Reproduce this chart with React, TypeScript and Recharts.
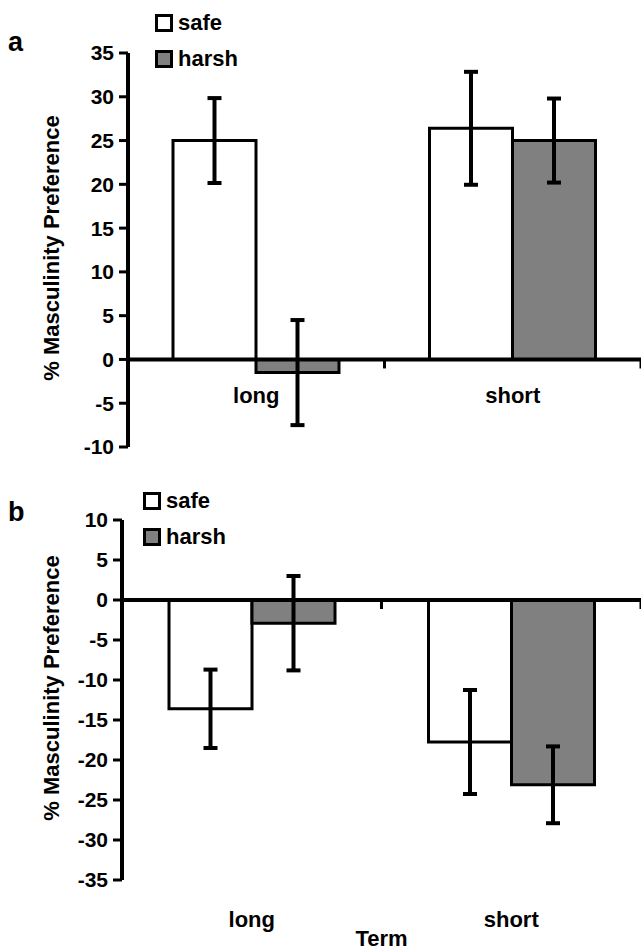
import { BarChart, Bar, XAxis, YAxis, ReferenceLine, ErrorBar, Legend } from 'recharts';

const TERMS = ['long', 'short'];
const SERIES = ['safe', 'harsh'];
const FILLS = ['#FFFFFF', '#808080'];

// panel a
const A_SAFE = [25.0, 26.4];
const A_SAFE_ERR = [4.85, 6.45];
const A_HARSH = [-1.5, 25.0];
const A_HARSH_ERR = [6.0, 4.8];
const A_TICKS = [-10, -5, 0, 5, 10, 15, 20, 25, 30, 35];

// panel b
const B_SAFE = [-13.6, -17.75];
const B_SAFE_ERR = [4.9, 6.5];
const B_HARSH = [-2.9, -23.1];
const B_HARSH_ERR = [5.9, 4.8];
const B_TICKS = [-35, -30, -25, -20, -15, -10, -5, 0, 5, 10];

const FONT = '"Liberation Sans", Arial, sans-serif';
const CHART_W = 650;
const MARGIN_R = 9;

function rows(safe: number[], safeErr: number[], harsh: number[], harshErr: number[]) {
  return TERMS.map((term, i) => ({
    term,
    safe: safe[i],
    safeErr: safeErr[i],
    harsh: harsh[i],
    harshErr: harshErr[i],
  }));
}

const dataA = rows(A_SAFE, A_SAFE_ERR, A_HARSH, A_HARSH_ERR);
const dataB = rows(B_SAFE, B_SAFE_ERR, B_HARSH, B_HARSH_ERR);

// category label plus the small tick on the zero line at the band edge
function TermTick(props: any) {
  const { x, payload, labelY, zeroY, band } = props;
  return (
    <g>
      <line x1={x + band / 2} x2={x + band / 2} y1={zeroY} y2={zeroY + 9} stroke="#000" strokeWidth={3} />
      <text x={x} y={labelY} textAnchor="middle" fill="#000" fontSize={22} fontWeight={700} fontFamily={FONT}>
        {payload.value}
      </text>
    </g>
  );
}

function YTitle(props: any) {
  const { viewBox, shift = 0 } = props;
  const cx = viewBox.x + 51;
  const cy = viewBox.y + viewBox.height / 2 + shift;
  return (
    <text
      x={cx}
      y={cy}
      dy="0.36em"
      transform={`rotate(-90 ${cx} ${cy})`}
      textAnchor="middle"
      fill="#000"
      fontSize={22}
      fontWeight={700}
      fontFamily={FONT}
    >
      % Masculinity Preference
    </text>
  );
}

function XTitle(props: any) {
  const { viewBox } = props;
  return (
    <text
      x={viewBox.x + viewBox.width / 2}
      y={viewBox.y + 66}
      textAnchor="middle"
      fill="#000"
      fontSize={22}
      fontWeight={700}
      fontFamily={FONT}
    >
      Term
    </text>
  );
}

function LegendBox() {
  return (
    <div>
      {SERIES.map((name, i) => (
        <div key={name} style={{ display: 'flex', alignItems: 'center', height: 36 }}>
          <span
            style={{
              display: 'inline-block',
              width: 12,
              height: 12,
              border: '3px solid #000',
              background: FILLS[i],
            }}
          />
          <span style={{ marginLeft: 5, fontSize: 22, fontWeight: 700, fontFamily: FONT, color: '#000' }}>{name}</span>
        </div>
      ))}
    </div>
  );
}

interface PanelProps {
  data: any[];
  domain: [number, number];
  ticks: number[];
  top: number;
  plotTop: number;
  plotH: number;
  axisW: number;
  xAxisH: number;
  labelFromZero: boolean;
  legendTop: number;
  legendLeft: number;
  titleShift: number;
  showTerm: boolean;
}

function Panel(p: PanelProps) {
  const [min, max] = p.domain;
  const zeroY = p.plotTop + (p.plotH * max) / (max - min);
  const plotBottom = p.plotTop + p.plotH;
  const band = (CHART_W - MARGIN_R - p.axisW) / TERMS.length;
  const labelY = p.labelFromZero ? zeroY + 44 : plotBottom + 47;
  const height = p.plotTop + p.plotH + p.xAxisH;

  return (
    <div style={{ position: 'absolute', top: p.top, left: 0 }}>
      <BarChart
        width={CHART_W}
        height={height}
        data={p.data}
        barGap={0}
        margin={{ top: p.plotTop, right: MARGIN_R, left: 0, bottom: 0 }}
      >
        <XAxis
          dataKey="term"
          height={p.xAxisH}
          axisLine={false}
          tickLine={false}
          interval={0}
          tick={<TermTick labelY={labelY} zeroY={zeroY} band={band} />}
          label={p.showTerm ? <XTitle /> : undefined}
        />
        <YAxis
          domain={p.domain}
          ticks={p.ticks}
          interval={0}
          allowDataOverflow
          width={p.axisW}
          axisLine={{ stroke: '#000', strokeWidth: 4 }}
          tickLine={{ stroke: '#000', strokeWidth: 3 }}
          tickSize={9}
          tickMargin={5}
          tick={{ fill: '#000', fontSize: 21, fontWeight: 700, fontFamily: FONT }}
          label={<YTitle shift={p.titleShift} />}
        />
        <Legend
          layout="vertical"
          align="center"
          verticalAlign="middle"
          content={<LegendBox />}
          wrapperStyle={{ top: p.legendTop, left: p.legendLeft, width: 'auto' }}
        />
        <Bar dataKey="safe" fill={FILLS[0]} stroke="#000" strokeWidth={3} barSize={83} isAnimationActive={false}>
          <ErrorBar dataKey="safeErr" width={7} stroke="#000" strokeWidth={4} isAnimationActive={false} />
        </Bar>
        <Bar dataKey="harsh" fill={FILLS[1]} stroke="#000" strokeWidth={3} barSize={83} isAnimationActive={false}>
          <ErrorBar dataKey="harshErr" width={7} stroke="#000" strokeWidth={4} isAnimationActive={false} />
        </Bar>
        <ReferenceLine y={0} stroke="#000" strokeWidth={4} />
      </BarChart>
    </div>
  );
}

const letter: React.CSSProperties = {
  position: 'absolute',
  left: 8,
  fontSize: 27,
  fontWeight: 700,
  fontFamily: FONT,
  lineHeight: 1,
  color: '#000',
};

export default function App() {
  return (
    <div
      style={{
        position: 'absolute',
        top: 0,
        left: 0,
        width: 641,
        height: 952,
        overflow: 'hidden',
        background: '#FFFFFF',
      }}
    >
      <Panel
        data={dataA}
        domain={[-10, 35]}
        ticks={A_TICKS}
        top={0}
        plotTop={53}
        plotH={394}
        axisW={128}
        xAxisH={30}
        labelFromZero
        legendTop={5}
        legendLeft={155}
        titleShift={-2}
        showTerm={false}
      />
      <Panel
        data={dataB}
        domain={[-35, 10]}
        ticks={B_TICKS}
        top={460}
        plotTop={60}
        plotH={360}
        axisW={122}
        xAxisH={72}
        labelFromZero={false}
        legendTop={23}
        legendLeft={143}
        titleShift={-12}
        showTerm
      />
      <div style={{ ...letter, top: 29 }}>a</div>
      <div style={{ ...letter, top: 499 }}>b</div>
    </div>
  );
}
